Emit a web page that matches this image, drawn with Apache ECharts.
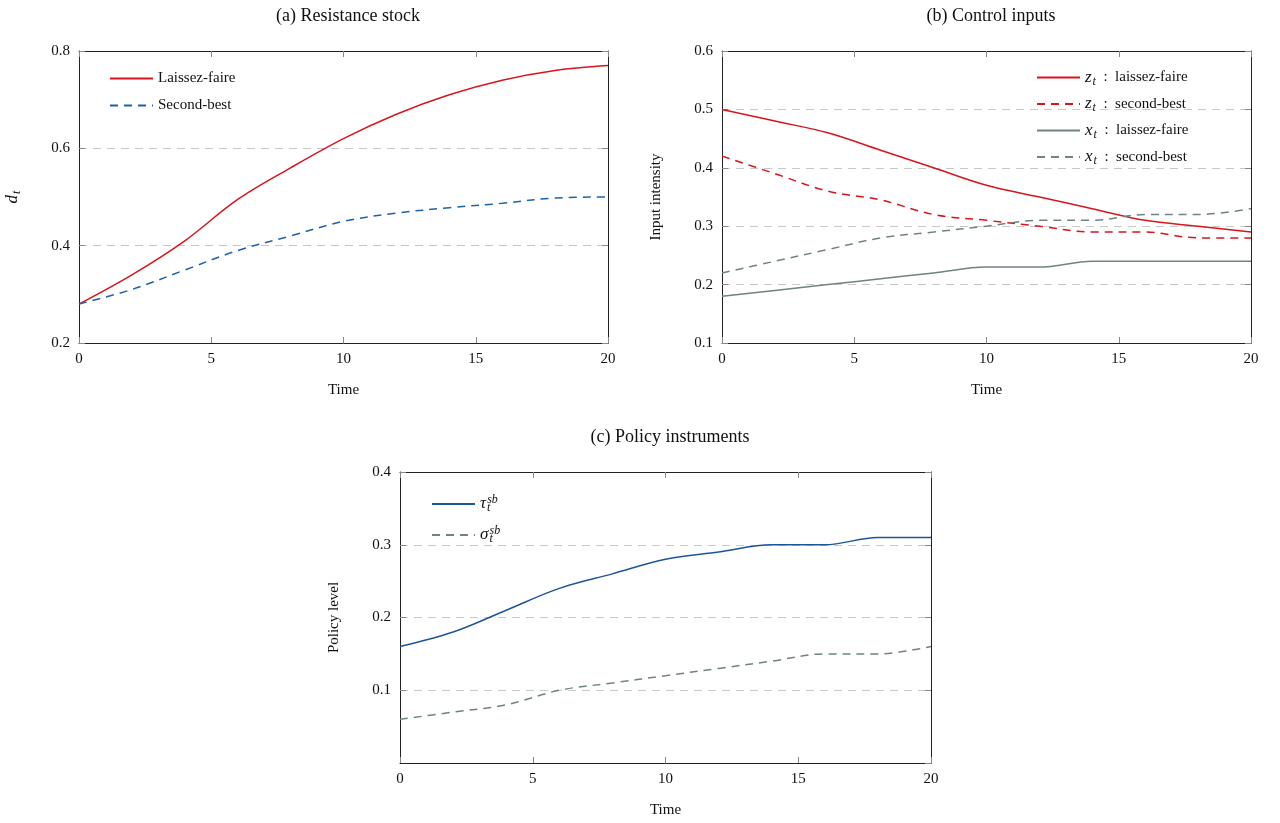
<!DOCTYPE html>
<html>
<head>
<meta charset="utf-8">
<script src="https://cdn.jsdelivr.net/npm/echarts@6/dist/echarts.min.js"></script>
<style>
  html, body { margin: 0; padding: 0; background: #fff; }
  #chart { width: 1280px; height: 823px; }
</style>
</head>
<body>
<div id="chart"></div>
<script>
const time = [0, 2, 4, 6, 8, 10, 12, 14, 16, 18, 20];

// (a) resistance stock d_t
const dLaissez = [0.28, 0.34, 0.41, 0.495, 0.56, 0.62, 0.67, 0.71, 0.74, 0.76, 0.77];
const dSecond = [0.28, 0.31, 0.35, 0.39, 0.42, 0.45, 0.467, 0.478, 0.487, 0.498, 0.50];

// (b) control inputs
const zLaissez = [0.50, 0.48, 0.46, 0.43, 0.40, 0.37, 0.35, 0.33, 0.31, 0.30, 0.29];
const zSecond = [0.42, 0.39, 0.36, 0.345, 0.32, 0.31, 0.30, 0.29, 0.29, 0.28, 0.28];
const xLaissez = [0.18, 0.19, 0.20, 0.21, 0.22, 0.23, 0.23, 0.24, 0.24, 0.24, 0.24];
const xSecond = [0.22, 0.24, 0.26, 0.28, 0.29, 0.30, 0.31, 0.31, 0.32, 0.32, 0.33];

// (c) policy instruments
const tauSb = [0.16, 0.18, 0.21, 0.24, 0.26, 0.28, 0.29, 0.30, 0.30, 0.31, 0.31];
const sigmaSb = [0.06, 0.07, 0.08, 0.10, 0.11, 0.12, 0.13, 0.14, 0.15, 0.15, 0.16];

const xTicks = { min: 0, max: 20, interval: 5 };

const RED = "#d9141b";
const BLUE = "#1f60ab";
const GRAY = "#6f8383";
const NAVY = "#1d5599";
const FONT = "Liberation Serif";

const pairs = (ys) => time.map((t, i) => [t, ys[i]]);

const chart = echarts.init(document.getElementById("chart"));

const grids = [
  { left: 79, right: 672, top: 51, bottom: 480 },
  { left: 722, right: 29, top: 51, bottom: 480 },
  { left: 400, right: 349, top: 472, bottom: 60 },
];

const richMath = {
  i: { fontFamily: FONT, fontStyle: "italic", fontSize: 17, color: "#111" },
  sub: { fontFamily: FONT, fontStyle: "italic", fontSize: 12, color: "#111", verticalAlign: "bottom", padding: [8, 0, 0, 1] },
  sup: { fontFamily: FONT, fontStyle: "italic", fontSize: 12, color: "#111", verticalAlign: "top", padding: [0, 0, 8, 0] },
  subz: { fontFamily: FONT, fontStyle: "italic", fontSize: 12, color: "#111", verticalAlign: "bottom", padding: [8, 0, 0, 1], width: 0.1 },
  n: { fontFamily: FONT, fontSize: 15, color: "#111" },
};

const frameLine = { onZero: false, lineStyle: { color: "#222", width: 1 } };
const innerTick = { inside: true, length: 6, lineStyle: { color: "#888" } };
const tickFont = { fontFamily: FONT, fontSize: 15, color: "#111" };

function xAxisFor(g, name) {
  return [
    {
      gridIndex: g, type: "value", ...xTicks, position: "bottom",
      name: name, nameLocation: "middle", nameGap: 40,
      nameTextStyle: { fontFamily: FONT, fontSize: 15, color: "#111" },
      axisLine: frameLine,
      axisTick: innerTick,
      axisLabel: { ...tickFont, margin: 9 },
      splitLine: { show: false },
    },
    {
      gridIndex: g, type: "value", ...xTicks, position: "top",
      axisLine: frameLine,
      axisTick: innerTick,
      axisLabel: { show: false },
      splitLine: { show: false },
    },
  ];
}

function yAxisFor(g, min, max, step, name, nameRich, showMin) {
  return [
    {
      gridIndex: g, type: "value", min: min, max: max, interval: step,
      position: "left",
      name: name, nameLocation: "middle", nameGap: 58, nameRotate: 90,
      nameTextStyle: { fontFamily: FONT, fontSize: 15, color: "#111", rich: nameRich },
      axisLine: frameLine,
      axisTick: innerTick,
      axisLabel: { ...tickFont, margin: 9, showMinLabel: showMin, formatter: (v) => v.toFixed(1) },
      splitLine: { show: true, lineStyle: { color: "#c8c8c8", type: [8, 6], width: 1 } },
    },
    {
      gridIndex: g, type: "value", min: min, max: max, interval: step, position: "right",
      axisLine: frameLine,
      axisTick: innerTick,
      axisLabel: { show: false },
      splitLine: { show: false },
    },
  ];
}

const yA = yAxisFor(0, 0.2, 0.8, 0.2, "{i|d}{sub|t}", richMath, true);
yA[0].nameGap = 56;

const xAxes = [...xAxisFor(0, "Time"), ...xAxisFor(1, "Time"), ...xAxisFor(2, "Time")];
const yAxes = [
  ...yA,
  ...yAxisFor(1, 0.1, 0.6, 0.1, "Input intensity", null, true),
  ...yAxisFor(2, 0, 0.4, 0.1, "Policy level", null, false),
];

function line(name, data, xi, yi, color, dashed) {
  return {
    name: name, type: "line", xAxisIndex: xi, yAxisIndex: yi,
    data: pairs(data), smooth: 0.35, showSymbol: false, symbol: "none",
    lineStyle: { color: color, width: 1.5, type: dashed ? [8, 6] : "solid" },
    itemStyle: { color: color },
  };
}

const legendText = { fontFamily: FONT, fontSize: 15, color: "#111", rich: richMath };
const legendBase = {
  orient: "vertical", itemWidth: 43, itemHeight: 14,
  itemStyle: { opacity: 0 }, textStyle: legendText,
};

const titleFont = { fontFamily: FONT, fontSize: 18, fontWeight: "normal", color: "#111" };

const option = {
  animation: false,
  backgroundColor: "#fff",
  title: [
    { text: "(a) Resistance stock", left: 343, top: 2, textAlign: "center", textStyle: titleFont },
    { text: "(b) Control inputs", left: 986, top: 2, textAlign: "center", textStyle: titleFont },
    { text: "(c) Policy instruments", left: 665, top: 423, textAlign: "center", textStyle: titleFont },
  ],
  grid: grids.map((g) => ({ ...g, show: false })),
  legend: [
    { ...legendBase, data: ["Laissez-faire", "Second-best"], left: 104, top: 66, itemGap: 12 },
    {
      ...legendBase, data: ["zl", "zs", "xl", "xs"], left: 1031, top: 64, itemGap: 8,
      formatter: (n) => ({
        zl: "{i|z}{sub|t}{n|  :  laissez-faire}",
        zs: "{i|z}{sub|t}{n|  :  second-best}",
        xl: "{i|x}{sub|t}{n|  :  laissez-faire}",
        xs: "{i|x}{sub|t}{n|  :  second-best}",
      })[n],
    },
    {
      ...legendBase, data: ["tau", "sigma"], left: 426, top: 489, itemGap: 11,
      formatter: (n) => ({
        tau: "{i|τ}{subz|t}{sup|sb}",
        sigma: "{i|σ}{subz|t}{sup|sb}",
      })[n],
    },
  ],
  xAxis: xAxes,
  yAxis: yAxes,
  series: [
    line("Laissez-faire", dLaissez, 0, 0, RED, false),
    line("Second-best", dSecond, 0, 0, BLUE, true),
    line("zl", zLaissez, 2, 2, RED, false),
    line("zs", zSecond, 2, 2, RED, true),
    line("xl", xLaissez, 2, 2, GRAY, false),
    line("xs", xSecond, 2, 2, GRAY, true),
    line("tau", tauSb, 4, 4, NAVY, false),
    line("sigma", sigmaSb, 4, 4, GRAY, true),
  ],
};

chart.setOption(option);
</script>
</body>
</html>
